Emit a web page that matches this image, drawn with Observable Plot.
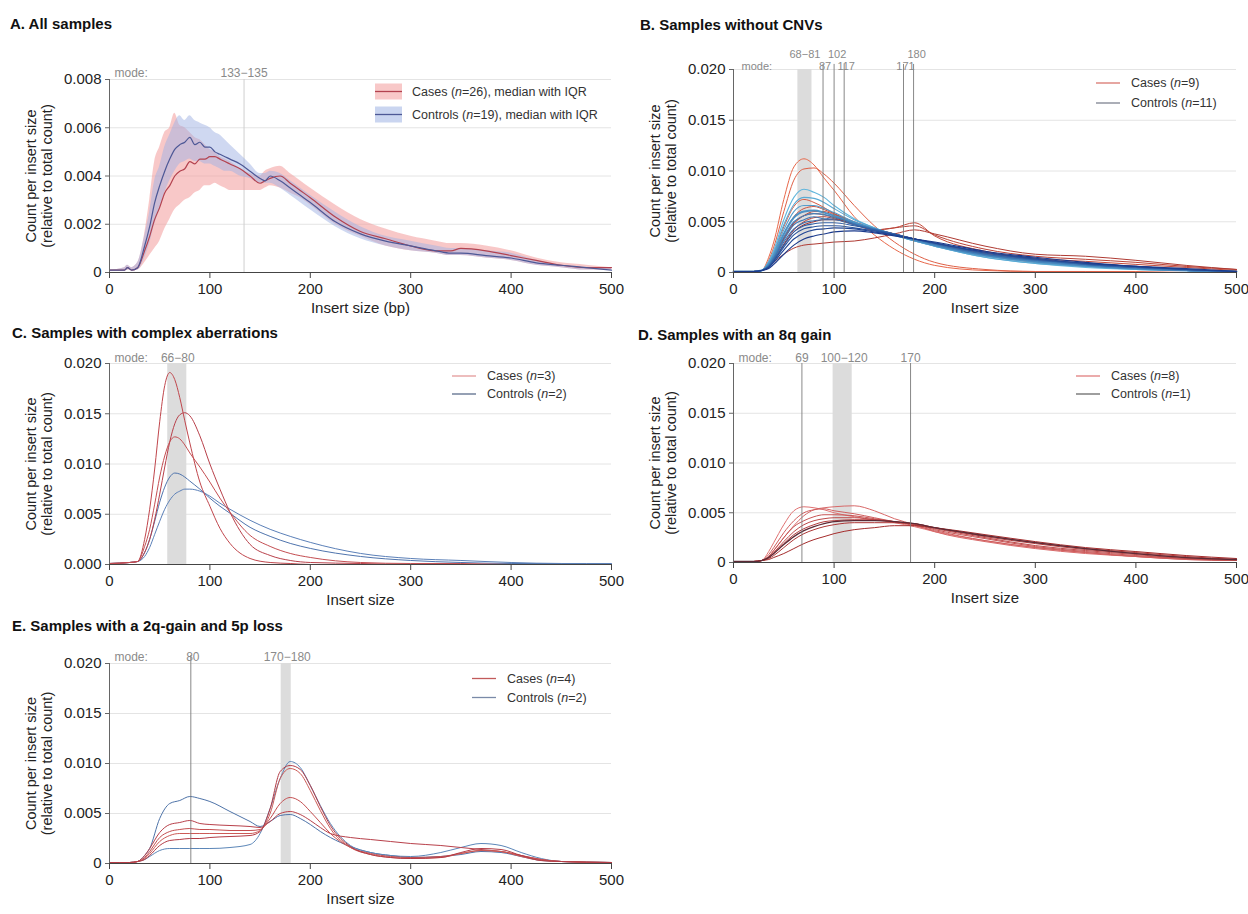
<!DOCTYPE html>
<html><head><meta charset="utf-8">
<script src="https://cdn.jsdelivr.net/npm/d3@7"></script>
<script src="https://cdn.jsdelivr.net/npm/@observablehq/plot@0.6"></script>
<style>
body{margin:0;background:#fff;font-family:"Liberation Sans",Arial,sans-serif;}
#root{position:relative;width:1248px;height:914px;overflow:hidden;background:#fff;}
.panel{position:absolute;}
.title{position:absolute;font-weight:bold;font-size:15px;color:#111;white-space:nowrap;line-height:18px;}
.legend{position:absolute;font-size:12.5px;color:#333;white-space:nowrap;}
.legend .row{display:flex;align-items:center;}
.legend svg{display:block;}
</style></head><body><div id="root"></div>
<script>
// ---------- shared ticks ----------
const xTicks = [0, 100, 200, 300, 400, 500];
const yTicksA = [0, 0.002, 0.004, 0.006, 0.008];
const yLabelsA = ["0", "0.002", "0.004", "0.006", "0.008"];
const yTicks20 = [0, 0.005, 0.010, 0.015, 0.020];
const yLabels20 = ["0", "0.005", "0.010", "0.015", "0.020"];
const yLabelsC = ["0.000", "0.005", "0.010", "0.015", "0.020"];
const yAxisLabel = "Count per insert size\n(relative to total count)";

// ---------- Panel A : medians with IQR ----------
const xsA = [0, 15, 18, 22, 28, 35, 40, 45, 50, 55, 60, 65, 70, 75, 80, 85, 90, 95, 100, 105, 110, 115, 120, 130, 140, 150, 155, 160, 170, 180, 190, 200, 225, 250, 275, 300, 325, 340, 350, 375, 400, 425, 450, 475, 500];
const casesMedA = [0.0001,0.0001,0.0002,0.0001,0.0002, 0.0009,0.0015,0.0022,0.0027,0.0033, 0.0036,0.0040,0.0042,0.0043,0.0046, 0.0045,0.0047,0.0047,0.0048,0.0048, 0.0047,0.0046,0.0045,0.0043,0.0040, 0.0037,0.0038,0.0039,0.0040,0.0037, 0.0034,0.0031,0.0023,0.0017,0.0014, 0.0011,0.0009,0.0009,0.0010,0.0009, 0.0007,0.0005,0.0003,0.0002,0.0002];
const casesLoA = [0.0001,0.0001,0.0001,0.0001,0.0001, 0.0004,0.0007,0.0010,0.0013,0.0018, 0.0022,0.0026,0.0028,0.0030,0.0031, 0.0033,0.0034,0.0036,0.0036,0.0037, 0.0036,0.0035,0.0034,0.0034,0.0034, 0.0034,0.0035,0.0036,0.0035,0.0033, 0.0031,0.0028,0.0020,0.0015,0.0011, 0.0009,0.0008,0.0007,0.0007,0.0006, 0.0005,0.0003,0.0002,0.0001,0.0001];
const casesHiA = [0.0001,0.0002,0.0003,0.0002,0.0004, 0.0016,0.0030,0.0046,0.0052,0.0058, 0.0060,0.0066,0.0061,0.0060,0.0058, 0.0056,0.0055,0.0053,0.0051,0.0050, 0.0048,0.0047,0.0046,0.0043,0.0041, 0.0040,0.0042,0.0043,0.0044,0.0041, 0.0038,0.0035,0.0028,0.0022,0.0018, 0.0015,0.0013,0.0012,0.0012,0.0011, 0.0009,0.0006,0.0004,0.0003,0.0002];
const ctrlMedA = [0.0001,0.0001,0.0002,0.0001,0.0002, 0.0011,0.0019,0.0029,0.0036,0.0042, 0.0047,0.0051,0.0053,0.0054,0.0056, 0.0053,0.0054,0.0052,0.0052,0.0050, 0.0049,0.0048,0.0047,0.0045,0.0042, 0.0039,0.0038,0.0040,0.0038,0.0035, 0.0032,0.0029,0.0021,0.0016,0.0013, 0.0011,0.0009,0.0008,0.0008,0.0007, 0.0006,0.0004,0.0003,0.0002,0.0001];
const ctrlLoA = [0.0001,0.0001,0.0001,0.0001,0.0001, 0.0006,0.0012,0.0020,0.0026,0.0033, 0.0038,0.0042,0.0045,0.0046,0.0047, 0.0046,0.0046,0.0045,0.0045,0.0044, 0.0043,0.0042,0.0042,0.0040,0.0039, 0.0037,0.0037,0.0037,0.0035,0.0032, 0.0029,0.0026,0.0019,0.0014,0.0011, 0.0009,0.0008,0.0007,0.0007,0.0006, 0.0005,0.0003,0.0002,0.0001,0.0001];
const ctrlHiA = [0.0001,0.0002,0.0003,0.0002,0.0004, 0.0015,0.0025,0.0038,0.0044,0.0052, 0.0057,0.0062,0.0065,0.0063,0.0065, 0.0063,0.0062,0.0061,0.0060,0.0058, 0.0057,0.0055,0.0053,0.0049,0.0045, 0.0041,0.0041,0.0042,0.0041,0.0038, 0.0035,0.0032,0.0025,0.0019,0.0015, 0.0013,0.0011,0.0010,0.0010,0.0009, 0.0008,0.0005,0.0003,0.0002,0.0002];
const modeLinesA = [134];
const modeLabelsA = [{x: 134, t: "133\u2212135"}];

// ---------- Panel B : samples without CNVs ----------
const xsB = [0, 20, 28, 35, 40, 50, 60, 70, 80, 90, 100, 120, 140, 160, 180, 200, 250, 300, 350, 400, 450, 500];
const casesB = [
  [0.0001,0.0001,0.0002,0.0015,0.0030,0.0072,0.0104,0.0112,0.0106,0.0093,0.0081,0.0055,0.0037,0.0023,0.0013,0.0007,0.0002,0.0001,0.0001,0.0001,0,0],
  [0.0001,0.0001,0.0002,0.0012,0.0025,0.0060,0.0091,0.0102,0.0103,0.0097,0.0088,0.0066,0.0046,0.0030,0.0018,0.0010,0.0003,0.0001,0.0001,0,0,0],
  [0.0001,0.0001,0.0002,0.0009,0.0019,0.0045,0.0065,0.0072,0.0069,0.0064,0.0058,0.0049,0.0042,0.0037,0.0033,0.0028,0.0017,0.0010,0.0006,0.0004,0.0002,0.0001],
  [0.0001,0.0001,0.0002,0.0008,0.0016,0.0038,0.0055,0.0063,0.0065,0.0062,0.0058,0.0050,0.0043,0.0038,0.0033,0.0028,0.0018,0.0011,0.0007,0.0004,0.0002,0.0001],
  [0.0001,0.0001,0.0002,0.0007,0.0014,0.0033,0.0048,0.0056,0.0060,0.0060,0.0057,0.0049,0.0042,0.0044,0.0049,0.0036,0.0021,0.0014,0.0011,0.0008,0.0005,0.0002],
  [0.0001,0.0001,0.0002,0.0006,0.0012,0.0028,0.0042,0.0050,0.0054,0.0055,0.0053,0.0047,0.0042,0.0044,0.0046,0.0037,0.0023,0.0016,0.0013,0.0010,0.0006,0.0003],
  [0.0001,0.0001,0.0002,0.0005,0.0010,0.0018,0.0024,0.0027,0.0028,0.0029,0.0030,0.0031,0.0034,0.0038,0.0042,0.0038,0.0026,0.0018,0.0016,0.0012,0.0007,0.0003],
  [0.0001,0.0001,0.0002,0.0008,0.0015,0.0034,0.0049,0.0056,0.0058,0.0057,0.0054,0.0048,0.0042,0.0037,0.0032,0.0027,0.0018,0.0012,0.0008,0.0005,0.0003,0.0001],
  [0.0001,0.0001,0.0002,0.0006,0.0012,0.0027,0.0040,0.0047,0.0050,0.0052,0.0052,0.0048,0.0043,0.0038,0.0033,0.0028,0.0019,0.0013,0.0009,0.0006,0.0003,0.0001]
];
const controlsB = [
  [0.0001,0.0001,0.0002,0.0011,0.0022,0.0052,0.0074,0.0082,0.0079,0.0074,0.0066,0.0053,0.0044,0.0037,0.0031,0.0026,0.0015,0.0009,0.0005,0.0003,0.0002,0.0001],
  [0.0001,0.0001,0.0002,0.0010,0.0020,0.0047,0.0067,0.0074,0.0073,0.0069,0.0063,0.0052,0.0044,0.0037,0.0031,0.0026,0.0015,0.0009,0.0006,0.0003,0.0002,0.0001],
  [0.0001,0.0001,0.0002,0.0009,0.0018,0.0042,0.0060,0.0066,0.0066,0.0063,0.0059,0.0050,0.0043,0.0037,0.0031,0.0026,0.0016,0.0010,0.0006,0.0004,0.0002,0.0001],
  [0.0001,0.0001,0.0002,0.0008,0.0016,0.0038,0.0054,0.0060,0.0061,0.0059,0.0056,0.0049,0.0043,0.0037,0.0032,0.0027,0.0017,0.0011,0.0007,0.0004,0.0002,0.0001],
  [0.0001,0.0001,0.0002,0.0007,0.0015,0.0035,0.0050,0.0056,0.0058,0.0057,0.0055,0.0048,0.0042,0.0037,0.0032,0.0027,0.0017,0.0011,0.0007,0.0004,0.0002,0.0001],
  [0.0001,0.0001,0.0002,0.0007,0.0014,0.0032,0.0047,0.0052,0.0055,0.0053,0.0054,0.0048,0.0043,0.0038,0.0033,0.0028,0.0018,0.0012,0.0008,0.0005,0.0002,0.0001],
  [0.0001,0.0001,0.0002,0.0006,0.0013,0.0030,0.0043,0.0049,0.0051,0.0052,0.0052,0.0047,0.0042,0.0038,0.0033,0.0028,0.0018,0.0012,0.0008,0.0005,0.0003,0.0001],
  [0.0001,0.0001,0.0002,0.0006,0.0012,0.0027,0.0040,0.0046,0.0048,0.0049,0.0049,0.0046,0.0042,0.0038,0.0033,0.0029,0.0019,0.0013,0.0008,0.0005,0.0003,0.0001],
  [0.0001,0.0001,0.0002,0.0005,0.0011,0.0025,0.0037,0.0043,0.0045,0.0046,0.0046,0.0044,0.0041,0.0037,0.0033,0.0029,0.0020,0.0013,0.0009,0.0006,0.0003,0.0001],
  [0.0001,0.0001,0.0002,0.0005,0.0010,0.0022,0.0033,0.0039,0.0042,0.0043,0.0044,0.0043,0.0040,0.0037,0.0033,0.0029,0.0020,0.0014,0.0009,0.0006,0.0003,0.0001],
  [0.0001,0.0001,0.0002,0.0004,0.0008,0.0018,0.0027,0.0033,0.0036,0.0038,0.0040,0.0041,0.0039,0.0036,0.0033,0.0030,0.0021,0.0015,0.0010,0.0006,0.0004,0.0001]
];
const modeBandB = [{x1: 64, x2: 78}];
const modeLinesB = [89, 100, 110, 169, 179];
const modeLabelsBTop = [{x: 71, t: "68\u221281"}, {x: 103, t: "102"}, {x: 182, t: "180"}];
const modeLabelsBBottom = [{x: 91, t: "87"}, {x: 112, t: "117"}, {x: 171, t: "171"}];

// ---------- Panel C : complex aberrations ----------
const xsC = [0, 20, 28, 35, 40, 45, 50, 55, 60, 65, 70, 75, 80, 90, 100, 110, 120, 140, 160, 180, 200, 250, 300, 350, 400, 450, 500];
const casesC = [
  [0.0001,0.0002,0.0003,0.0025,0.0055,0.0095,0.0142,0.0178,0.0191,0.0184,0.0166,0.0143,0.0121,0.0082,0.0058,0.0036,0.0021,0.0006,0.0002,0.0001,0,0,0,0,0,0,0],
  [0.0001,0.0002,0.0003,0.0012,0.0025,0.0045,0.0070,0.0097,0.0122,0.0140,0.0149,0.0151,0.0148,0.0128,0.0100,0.0075,0.0052,0.0020,0.0009,0.0004,0.0002,0.0001,0,0,0,0,0],
  [0.0001,0.0002,0.0003,0.0018,0.0035,0.0060,0.0087,0.0108,0.0122,0.0127,0.0125,0.0119,0.0111,0.0097,0.0082,0.0066,0.0052,0.0029,0.0018,0.0011,0.0007,0.0002,0.0001,0.0001,0,0,0]
];
const controlsC = [
  [0.0001,0.0002,0.0003,0.0012,0.0025,0.0043,0.0062,0.0077,0.0087,0.0091,0.0090,0.0087,0.0083,0.0075,0.0066,0.0058,0.0051,0.0037,0.0028,0.0021,0.0016,0.0008,0.0004,0.0002,0.0001,0.0001,0],
  [0.0001,0.0002,0.0003,0.0008,0.0017,0.0030,0.0043,0.0055,0.0064,0.0070,0.0073,0.0075,0.0075,0.0073,0.0068,0.0061,0.0055,0.0044,0.0035,0.0028,0.0022,0.0011,0.0006,0.0004,0.0002,0.0001,0.0001]
];
const modeBandC = [{x1: 58, x2: 77}];
const modeLabelsC = [{x: 68, t: "66\u221280"}];

// ---------- Panel D : 8q gain ----------
const xsD = [0, 20, 28, 35, 40, 50, 60, 70, 80, 90, 100, 120, 140, 160, 180, 200, 250, 300, 350, 400, 450, 500];
const casesD = [
  [0.0001,0.0001,0.0002,0.0011,0.0020,0.0038,0.0052,0.0056,0.0055,0.0053,0.0050,0.0046,0.0043,0.0040,0.0036,0.0031,0.0022,0.0015,0.0010,0.0006,0.0004,0.0002],
  [0.0001,0.0001,0.0002,0.0006,0.0012,0.0025,0.0037,0.0047,0.0053,0.0055,0.0056,0.0057,0.0052,0.0044,0.0038,0.0031,0.0021,0.0014,0.0009,0.0006,0.0003,0.0002],
  [0.0001,0.0001,0.0002,0.0008,0.0015,0.0030,0.0042,0.0050,0.0053,0.0054,0.0052,0.0049,0.0045,0.0041,0.0037,0.0032,0.0022,0.0015,0.0010,0.0006,0.0003,0.0002],
  [0.0001,0.0001,0.0002,0.0006,0.0012,0.0025,0.0036,0.0042,0.0046,0.0048,0.0048,0.0047,0.0044,0.0041,0.0038,0.0033,0.0024,0.0016,0.0011,0.0007,0.0004,0.0002],
  [0.0001,0.0001,0.0002,0.0005,0.0010,0.0021,0.0031,0.0038,0.0042,0.0044,0.0045,0.0045,0.0043,0.0041,0.0038,0.0034,0.0025,0.0017,0.0012,0.0008,0.0004,0.0002],
  [0.0001,0.0001,0.0002,0.0005,0.0009,0.0019,0.0028,0.0034,0.0038,0.0041,0.0042,0.0043,0.0043,0.0041,0.0039,0.0035,0.0026,0.0019,0.0013,0.0009,0.0005,0.0003],
  [0.0001,0.0001,0.0002,0.0004,0.0007,0.0015,0.0023,0.0029,0.0033,0.0036,0.0038,0.0040,0.0040,0.0040,0.0039,0.0035,0.0027,0.0020,0.0014,0.0010,0.0006,0.0003],
  [0.0001,0.0001,0.0002,0.0003,0.0005,0.0009,0.0014,0.0019,0.0023,0.0026,0.0029,0.0033,0.0035,0.0037,0.0037,0.0035,0.0028,0.0021,0.0015,0.0011,0.0007,0.0004]
];
const controlsD = [
  [0.0001,0.0001,0.0002,0.0005,0.0009,0.0018,0.0026,0.0032,0.0036,0.0039,0.0041,0.0042,0.0042,0.0041,0.0039,0.0035,0.0027,0.0020,0.0014,0.0009,0.0005,0.0003]
];
const modeBandD = [{x1: 99, x2: 118}];
const modeLinesD = [68, 176];
const modeLabelsD = [{x: 68, t: "69"}, {x: 110, t: "100\u2212120"}, {x: 176, t: "170"}];

// ---------- Panel E : 2q gain and 5p loss ----------
const xsE = [0, 20, 28, 35, 40, 50, 60, 70, 80, 90, 100, 120, 140, 150, 160, 170, 180, 190, 200, 210, 220, 240, 260, 280, 300, 330, 350, 370, 390, 410, 430, 450, 500];
const casesE = [
  [0.0001,0.0001,0.0002,0.0008,0.0015,0.0031,0.0039,0.0041,0.0043,0.0040,0.0039,0.0038,0.0037,0.0036,0.0042,0.0050,0.0052,0.0049,0.0043,0.0036,0.0030,0.0026,0.0024,0.0022,0.0020,0.0018,0.0016,0.0014,0.0012,0.0008,0.0004,0.0002,0.0001],
  [0.0001,0.0001,0.0002,0.0006,0.0012,0.0026,0.0032,0.0034,0.0035,0.0034,0.0034,0.0033,0.0033,0.0034,0.0045,0.0060,0.0066,0.0062,0.0052,0.0041,0.0030,0.0016,0.0010,0.0007,0.0006,0.0007,0.0010,0.0013,0.0012,0.0008,0.0004,0.0002,0.0001],
  [0.0001,0.0001,0.0002,0.0005,0.0010,0.0022,0.0028,0.0030,0.0030,0.0030,0.0030,0.0030,0.0030,0.0033,0.0050,0.0085,0.0095,0.0090,0.0073,0.0053,0.0035,0.0016,0.0009,0.0006,0.0005,0.0006,0.0010,0.0013,0.0012,0.0007,0.0003,0.0002,0.0001],
  [0.0001,0.0001,0.0002,0.0004,0.0008,0.0018,0.0023,0.0024,0.0025,0.0025,0.0026,0.0027,0.0028,0.0032,0.0055,0.0092,0.0098,0.0094,0.0078,0.0057,0.0038,0.0017,0.0009,0.0006,0.0005,0.0006,0.0011,0.0015,0.0014,0.0008,0.0003,0.0002,0.0001]
];
const controlsE = [
  [0.0001,0.0001,0.0002,0.0008,0.0015,0.0045,0.0060,0.0063,0.0067,0.0065,0.0062,0.0052,0.0042,0.0037,0.0042,0.0048,0.0049,0.0045,0.0039,0.0032,0.0026,0.0017,0.0011,0.0008,0.0006,0.0007,0.0009,0.0012,0.0011,0.0007,0.0003,0.0002,0.0001],
  [0.0001,0.0001,0.0002,0.0004,0.0007,0.0013,0.0015,0.0015,0.0015,0.0015,0.0015,0.0016,0.0019,0.0030,0.0055,0.0085,0.0102,0.0096,0.0078,0.0058,0.0040,0.0018,0.0011,0.0008,0.0007,0.0011,0.0016,0.0020,0.0018,0.0011,0.0005,0.0002,0.0001]
];
const modeBandE = [{x1: 171, x2: 181}];
const modeLinesE = [81];
const modeLabelsE = [{x: 83, t: "80"}, {x: 177, t: "170\u2212180"}];

// ---------- helpers ----------
const FONT = "'Liberation Sans', Arial, Helvetica, sans-serif";
const root = document.getElementById("root");

function rows(xs, ys) { return xs.map((x, i) => ({x, y: ys[i]})); }

function curveMarks(xs, list, colors, widths) {
  return list.map((ys, i) => Plot.line(rows(xs, ys), {
    x: "x", y: "y", stroke: colors[i], strokeWidth: widths ? widths[i] : 1, curve: "monotone-x"
  }));
}

function modeText(labels, dy, startX, fs = 12) {
  const out = [];
  if (startX != null) out.push(Plot.text(["mode:"], {x: startX, text: d => d, frameAnchor: "top", dy, textAnchor: "start", fill: "#8a8a8a", fontSize: fs}));
  if (labels) out.push(Plot.text(labels, {x: "x", text: "t", frameAnchor: "top", dy, fill: "#8a8a8a", fontSize: fs}));
  return out;
}

function panel({left, top, height, mt, mb, ml = 109, mr = 13, yMax, yTicks, yLabels, xLabel, back = [], marks = [], front = []}) {
  const yMap = new Map(yTicks.map((t, i) => [t, yLabels[i]]));
  const svg = Plot.plot({
    width: 624, height,
    marginLeft: ml, marginRight: mr, marginTop: mt, marginBottom: mb,
    style: {fontFamily: FONT, fontSize: "15px", color: "#222", background: "transparent", overflow: "visible"},
    x: {domain: [0, 500]},
    y: {domain: [0, yMax]},
    marks: [
      Plot.ruleY(yTicks.slice(1), {stroke: "#e4e4e4", strokeWidth: 1}),
      ...back,
      ...marks,
      ...front,
      Plot.ruleX([0], {stroke: "#666", strokeWidth: 1}),
      Plot.ruleY([0], {stroke: "#444", strokeWidth: 1.2}),
      Plot.axisX(xTicks, {tickSize: 6, tickPadding: 5, label: null, stroke: "#444", fill: "#222", fontSize: 15}),
      Plot.axisY(yTicks, {tickSize: 4, tickPadding: 4, label: null, stroke: "#666", fill: "#222", fontSize: 15, tickFormat: d => yMap.get(d)}),
      Plot.text([yAxisLabel], {text: d => d, frameAnchor: "left", textAnchor: "middle", lineAnchor: "middle", dx: -71, rotate: -90, fontSize: 14.5, lineHeight: 1.15, fill: "#222"}),
      Plot.text([xLabel], {text: d => d, frameAnchor: "bottom", dy: 40, fontSize: 15, fill: "#222"})
    ]
  });
  svg.classList.add("panel");
  svg.style.left = left + "px";
  svg.style.top = top + "px";
  root.appendChild(svg);
}

function title(text, left, top) {
  const d = document.createElement("div");
  d.className = "title"; d.textContent = text;
  d.style.left = left + "px"; d.style.top = top + "px";
  root.appendChild(d);
}

function legend(left, top, gap, items) {
  const d = document.createElement("div");
  d.className = "legend";
  d.style.left = left + "px"; d.style.top = top + "px";
  items.forEach(it => {
    const r = document.createElement("div");
    r.className = "row"; r.style.height = gap + "px";
    const sw = it.band
      ? `<svg width="27" height="${gap}"><rect x="0" y="${gap/2-8}" width="27" height="16" fill="${it.band}" fill-opacity="0.55"></rect><line x1="0" x2="27" y1="${gap/2}" y2="${gap/2}" stroke="${it.color}" stroke-width="1.3"></line></svg>`
      : `<svg width="24" height="${gap}"><line x1="0" x2="24" y1="${gap/2}" y2="${gap/2}" stroke="${it.color}" stroke-width="1.3"></line></svg>`;
    r.innerHTML = sw + `<span style="margin-left:${it.band ? 10 : 11}px">${it.label}</span>`;
    d.appendChild(r);
  });
  root.appendChild(d);
}

// ---------- Panel A ----------
const caseRed = "#b3424f", caseBand = "#f29a9a";
const ctrlBlue = "#4d5896", ctrlBand = "#9fb2e4";
title("A. All samples", 10, 15);
panel({
  left: 0, top: 40, height: 285, mt: 39, mb: 53, yMax: 0.008,
  yTicks: yTicksA, yLabels: yLabelsA, xLabel: "Insert size (bp)",
  back: [
    Plot.ruleX(modeLinesA, {y1: 0, y2: 0.008, stroke: "#cfcfcf", strokeWidth: 1}),
    Plot.areaY(xsA.map((x, i) => ({x, lo: casesLoA[i], hi: casesHiA[i]})), {x: "x", y1: "lo", y2: "hi", fill: caseBand, fillOpacity: 0.55, curve: "monotone-x"}),
    Plot.areaY(xsA.map((x, i) => ({x, lo: ctrlLoA[i], hi: ctrlHiA[i]})), {x: "x", y1: "lo", y2: "hi", fill: ctrlBand, fillOpacity: 0.5, curve: "monotone-x"})
  ],
  marks: [
    Plot.line(rows(xsA, casesMedA), {x: "x", y: "y", stroke: caseRed, strokeWidth: 1.2, curve: "monotone-x"}),
    Plot.line(rows(xsA, ctrlMedA), {x: "x", y: "y", stroke: ctrlBlue, strokeWidth: 1.2, curve: "monotone-x"})
  ],
  front: modeText(modeLabelsA, -11, 5)
});
legend(375, 80, 23, [
  {band: caseBand, color: caseRed, label: "Cases (<i>n</i>=26), median with IQR"},
  {band: ctrlBand, color: ctrlBlue, label: "Controls (<i>n</i>=19), median with IQR"}
]);

// ---------- Panel B ----------
const caseColorsB = d3.quantize(d3.interpolateRgb("#e8684a", "#9c2a2a"), casesB.length);
const ctrlColorsB = d3.quantize(d3.interpolateRgb("#62b6dc", "#1a3a8c"), controlsB.length);
const ctrlWidthsB = controlsB.map((_, i) => i === 3 ? 2 : 1.1);
title("B. Samples without CNVs", 640, 16);
panel({
  left: 624, top: 40, height: 285, mt: 29, mb: 53, mr: 12, yMax: 0.020,
  yTicks: yTicks20, yLabels: yLabels20, xLabel: "Insert size",
  back: [Plot.rect(modeBandB, {x1: "x1", x2: "x2", fill: "#dcdcdc"})],
  marks: [
    ...curveMarks(xsB, casesB, caseColorsB),
    ...curveMarks(xsB, controlsB, ctrlColorsB, ctrlWidthsB)
  ],
  front: [
    Plot.ruleX(modeLinesB, {y1: 0, y2: 0.0205, stroke: "#7a7a7a", strokeWidth: 0.9}),
    ...modeText(modeLabelsBBottom, -7, 8, 11),
    ...modeText(modeLabelsBTop, -19, null, 11)
  ]
});
legend(1096, 73, 20, [
  {color: "#d9766e", label: "Cases (<i>n</i>=9)"},
  {color: "#7d8290", label: "Controls (<i>n</i>=11)"}
]);

// ---------- Panel C ----------
title("C. Samples with complex aberrations", 12, 324);
panel({
  left: 0, top: 335, height: 280, mt: 28, mb: 51, yMax: 0.020,
  yTicks: yTicks20, yLabels: yLabelsC, xLabel: "Insert size",
  back: [Plot.rect(modeBandC, {x1: "x1", x2: "x2", fill: "#dcdcdc"})],
  marks: [
    ...curveMarks(xsC, controlsC, ["#4f74ad", "#5b80b8"]),
    ...curveMarks(xsC, casesC, ["#c0464c", "#b8404a", "#c44e52"])
  ],
  front: modeText(modeLabelsC, -10, 5)
});
legend(452, 367, 18, [
  {color: "#e39a9a", label: "Cases (<i>n</i>=3)"},
  {color: "#5b6c8c", label: "Controls (<i>n</i>=2)"}
]);

// ---------- Panel D ----------
const caseColorsD = d3.quantize(d3.interpolateRgb("#e07272", "#a52c2c"), casesD.length);
title("D. Samples with an 8q gain", 638, 326);
panel({
  left: 624, top: 335, height: 280, mt: 28, mb: 53, mr: 12, yMax: 0.020,
  yTicks: yTicks20, yLabels: yLabels20, xLabel: "Insert size",
  back: [Plot.rect(modeBandD, {x1: "x1", x2: "x2", fill: "#dcdcdc"})],
  marks: [
    ...curveMarks(xsD, casesD, caseColorsD),
    ...curveMarks(xsD, controlsD, ["#5c2a36"], [1.3])
  ],
  front: [
    Plot.ruleX(modeLinesD, {y1: 0, y2: 0.020, stroke: "#7a7a7a", strokeWidth: 0.9}),
    ...modeText(modeLabelsD, -10, 5)
  ]
});
legend(1076, 367, 18, [
  {color: "#e07e7e", label: "Cases (<i>n</i>=8)"},
  {color: "#6a6a6a", label: "Controls (<i>n</i>=1)"}
]);

// ---------- Panel E ----------
title("E. Samples with a 2q-gain and 5p loss", 12, 617);
panel({
  left: 0, top: 635, height: 279, mt: 28, mb: 51, yMax: 0.020,
  yTicks: yTicks20, yLabels: yLabels20, xLabel: "Insert size",
  back: [Plot.rect(modeBandE, {x1: "x1", x2: "x2", fill: "#dcdcdc"})],
  marks: [
    ...curveMarks(xsE, controlsE, ["#4e73a8", "#5b86b8"]),
    ...curveMarks(xsE, casesE, ["#b8404a", "#c44e50", "#cc5a56", "#b33b45"])
  ],
  front: [
    Plot.ruleX(modeLinesE, {y1: 0, y2: 0.0208, stroke: "#7a7a7a", strokeWidth: 0.9}),
    ...modeText(modeLabelsE, -11, 5)
  ]
});
legend(472, 669, 19, [
  {color: "#c25a5a", label: "Cases (<i>n</i>=4)"},
  {color: "#7a8aa8", label: "Controls (<i>n</i>=2)"}
]);
</script></body></html>
